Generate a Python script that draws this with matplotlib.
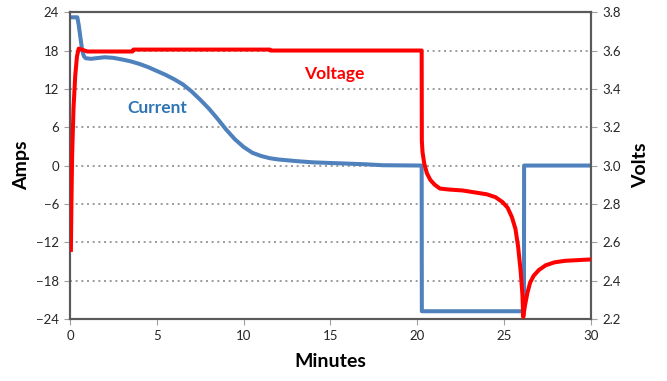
import matplotlib.pyplot as plt

plt.rcParams['font.family'] = ['Lato', 'DejaVu Sans']

# Current (amps) vs time (minutes)
cur_t = [0.0, 0.1, 0.42, 0.5, 0.6, 0.7, 0.8, 0.9, 1.2, 1.5, 2.0, 2.5, 3.0,
         3.5, 4.0, 4.5, 5.0, 5.5, 6.0, 6.5, 7.0, 7.5, 8.0, 8.5, 9.0, 9.5,
         10.0, 10.5, 11.0, 11.5, 12.0, 13.0, 14.0, 15.0, 16.0, 17.0, 18.0,
         20.25, 20.26, 26.14, 26.15, 30.0]
cur_a = [23.2, 23.2, 23.2, 22.0, 20.0, 18.0, 17.1, 16.8, 16.7, 16.8, 16.95,
         16.85, 16.6, 16.3, 15.9, 15.4, 14.8, 14.2, 13.5, 12.7, 11.6, 10.3,
         8.9, 7.3, 5.6, 4.1, 2.9, 2.0, 1.5, 1.15, 0.95, 0.7, 0.5, 0.4, 0.3,
         0.2, 0.05, 0.0, -22.8, -22.8, 0.0, 0.0]

# Voltage (volts) vs time (minutes)
volt_t = [0.05, 0.08, 0.12, 0.2, 0.3, 0.4, 0.5, 1.0, 3.6, 3.65, 11.5, 11.55,
          20.25, 20.26, 20.3, 20.4, 20.55, 20.75, 21.0, 21.3, 21.8, 22.6, 23.3,
          24.0, 24.5, 24.9, 25.2, 25.45, 25.65, 25.8, 25.95, 26.05, 26.1,
          26.2, 26.35, 26.5, 26.7, 27.0, 27.4, 27.9, 28.5, 29.94]
volt_v = [2.56, 2.8, 3.05, 3.3, 3.47, 3.57, 3.61, 3.595, 3.595, 3.605, 3.605,
          3.6, 3.6, 3.13, 3.07, 3.01, 2.96, 2.925, 2.9, 2.88, 2.875, 2.87,
          2.86, 2.85, 2.835, 2.81, 2.78, 2.73, 2.67, 2.58, 2.45, 2.33, 2.21,
          2.27, 2.34, 2.39, 2.425, 2.455, 2.48, 2.495, 2.503, 2.51]

amp_ticks = [-24, -18, -12, -6, 0, 6, 12, 18, 24]
volt_ticks = [2.2, 2.4, 2.6, 2.8, 3.0, 3.2, 3.4, 3.6, 3.8]
min_ticks = [0, 5, 10, 15, 20, 25, 30]

fig = plt.figure(figsize=(6.67, 3.81), dpi=100)
ax = fig.add_axes([0.105, 0.163, 0.781, 0.805])
ax2 = ax.twinx()

for y in amp_ticks[1:-1]:
    ax.axhline(y, color='#8c8c8c', lw=1.2, ls=(0, (1.2, 2.2)), zorder=0)

ax.plot(cur_t, cur_a, color='#4f81bd', lw=2.9, solid_joinstyle='round', zorder=2)
ax2.plot(volt_t, volt_v, color='#ff0000', lw=2.9, solid_joinstyle='round', zorder=3)

ax.set_xlim(0, 30)
ax.set_ylim(-24, 24)
ax2.set_ylim(2.2, 3.8)
ax.set_xticks(min_ticks)
ax.set_yticks(amp_ticks)
ax2.set_yticks(volt_ticks)
ax2.set_yticklabels([f'{v:.1f}' for v in volt_ticks])

for a in (ax, ax2):
    for s in a.spines.values():
        s.set_color('#5a5a5a')
        s.set_linewidth(1.5)
    a.tick_params(length=4, width=0.8, color='#a0a0a0', labelsize=9.5,
                  labelcolor='#262626', pad=4)
ax.spines['top'].set_color('#1a1a1a')

ax.set_xlabel('Minutes', fontsize=14, fontweight='bold', labelpad=8)
ax.set_ylabel('Amps', fontsize=14, fontweight='bold', labelpad=4)
ax2.set_ylabel('Volts', fontsize=14, fontweight='bold', labelpad=8)

ax.text(15.2, 14.4, 'Voltage', color='#ff0000', fontsize=12.5,
        fontweight='bold', ha='center', va='center', zorder=5)
ax.text(5.0, 9.0, 'Current', color='#2e75b6', fontsize=12.5,
        fontweight='bold', ha='center', va='center', zorder=5)

fig.savefig('out.png', dpi=100)
